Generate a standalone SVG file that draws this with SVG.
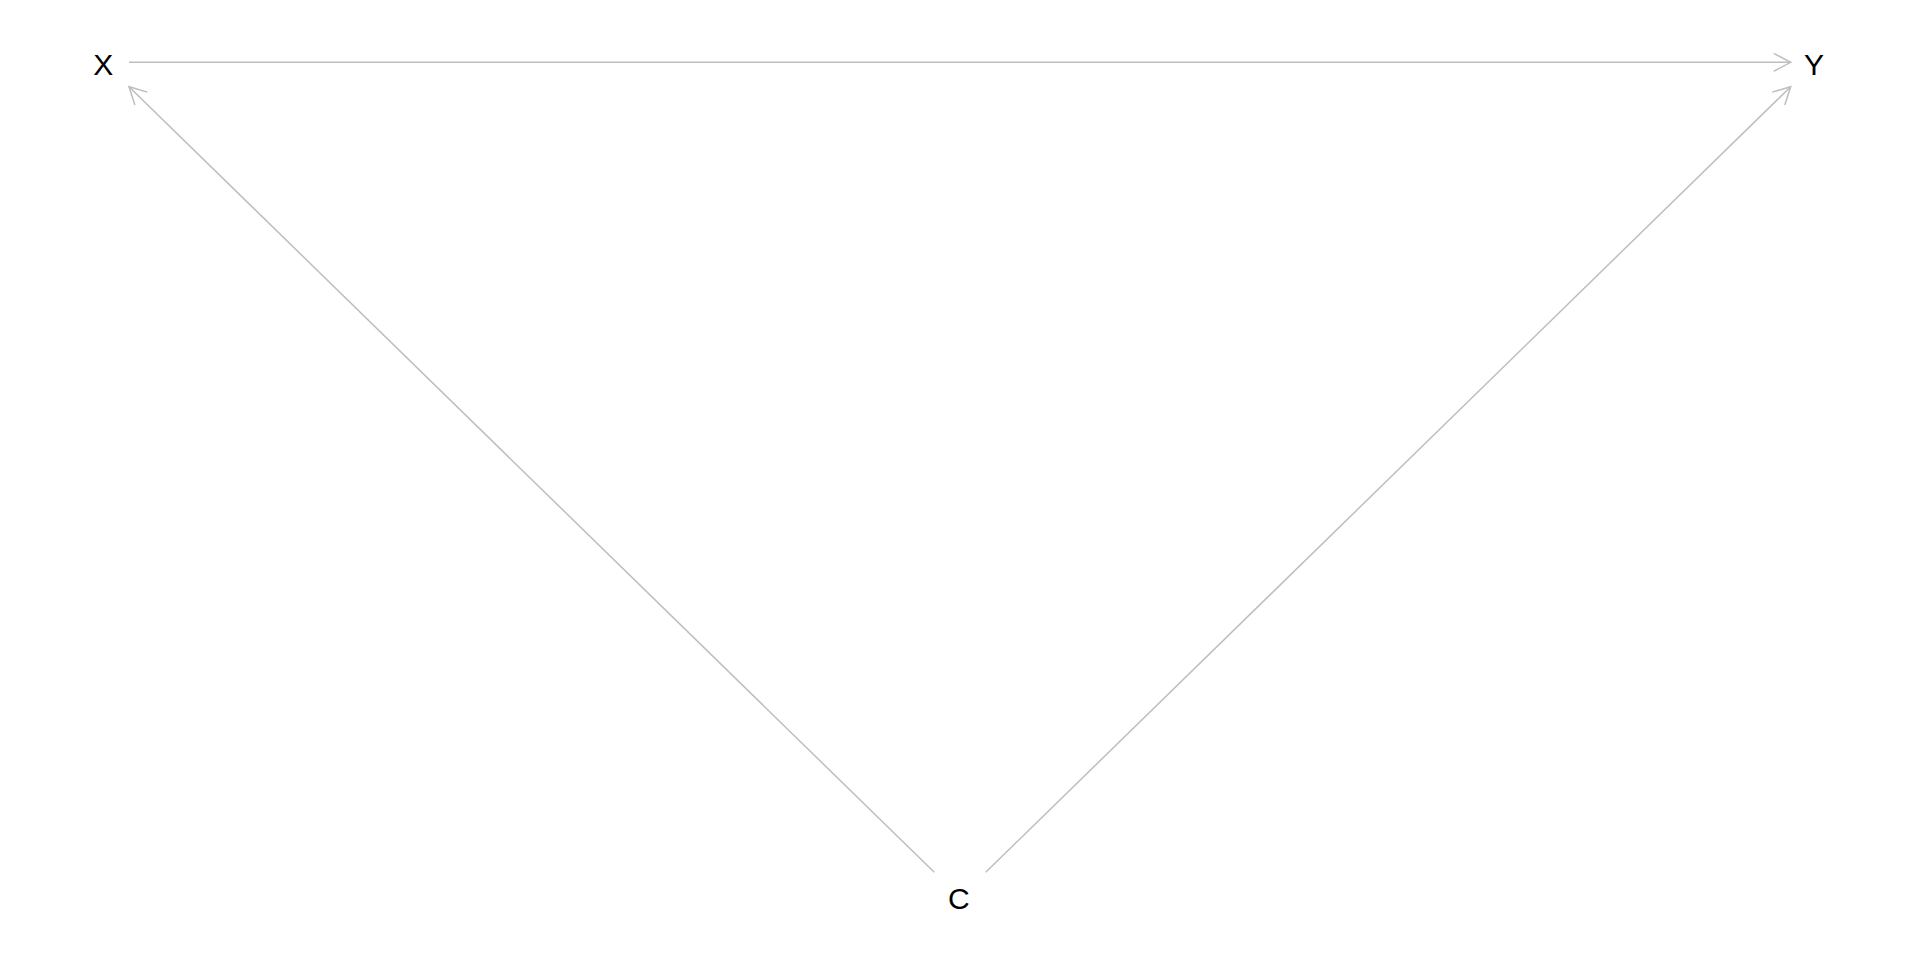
<svg xmlns="http://www.w3.org/2000/svg" width="1920" height="960" viewBox="0 0 1920 960">
  <defs>
    <marker id="arr" markerUnits="userSpaceOnUse" markerWidth="40" markerHeight="40" refX="0" refY="0" viewBox="-20 -20 40 40" orient="auto" overflow="visible">
      <path d="M-17,-9 L0,0 L-17,9" fill="none" stroke="#bebebe" stroke-width="1.5"/>
    </marker>
  </defs>
  <style>
    .edge { fill: none; stroke: #bebebe; stroke-width: 1.5; marker-end: url(#arr); }
    .lbl { font-family: "Liberation Sans", Arial, sans-serif; font-size: 30px; fill: #000; text-anchor: middle; }
  </style>
  <rect width="1920" height="960" fill="#ffffff"/>
  <g id="connectors">
    <line class="edge" x1="129" y1="62.3" x2="1790.7" y2="62.3"/>
    <line class="edge" x1="934.3" y1="872.3" x2="129" y2="86.7"/>
    <line class="edge" x1="985.7" y1="872.3" x2="1790.7" y2="86.7"/>
  </g>
  <g id="node-X"><text class="lbl" x="103.3" y="75">X</text></g>
  <g id="node-Y"><text class="lbl" x="1814" y="75">Y</text></g>
  <g id="node-C"><text class="lbl" x="958.8" y="909.3">C</text></g>
</svg>
